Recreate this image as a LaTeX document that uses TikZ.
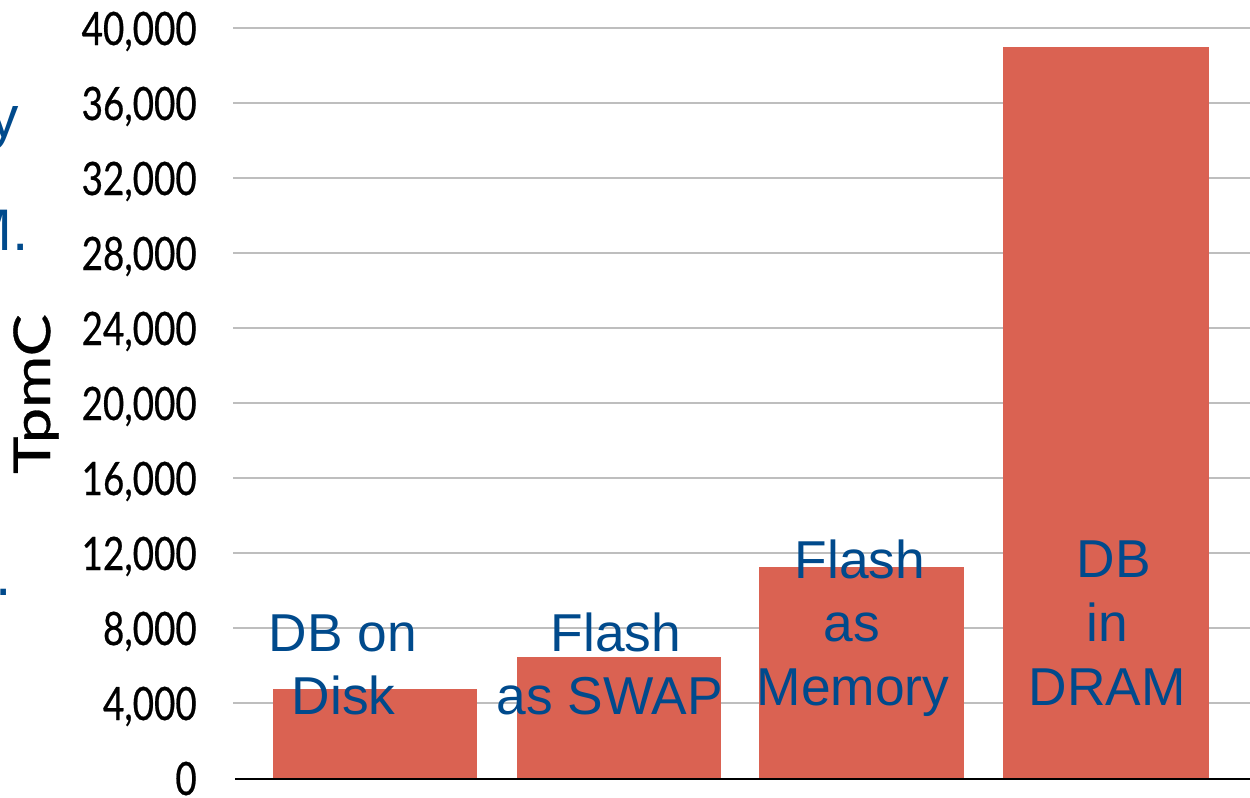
\documentclass[tikz,border=0pt]{standalone}
\usepackage{fontspec}
\setmainfont{Liberation Sans}
\newfontfamily\tickfont[FakeStretch=0.8,FakeBold=0.5]{Lato}
\newfontfamily\axisfont[FakeStretch=1.25,FakeBold=0.6]{Lato}
\definecolor{barred}{RGB}{218,98,82}
\definecolor{lblblue}{RGB}{0,74,140}
\definecolor{gridgray}{RGB}{190,190,190}
\begin{document}
\begin{tikzpicture}[x=0.75pt,y=-0.75pt,
  gridline/.style={draw=gridgray,line width=1.1pt},
  axisline/.style={draw=black,line width=1.1pt},
  bar/.style={fill=barred,draw=none},
  ticklbl/.style={anchor=base east,inner sep=0pt,font=\tickfont\fontsize{34.5}{40}\selectfont},
  barlbl/.style={anchor=base,inner sep=0pt,text=lblblue,font=\fontsize{40}{48}\selectfont},
  sidelbl/.style={anchor=base east,inner sep=0pt,text=lblblue,font=\fontsize{44}{52}\selectfont}]
\useasboundingbox (0,0) rectangle (1250,797);
\fill[white] (0,0) rectangle (1250,797);
% gridlines and tick labels
\foreach \k/\lab in {0/0,1/{4,000},2/{8,000},3/{12,000},4/{16,000},5/{20,000},6/{24,000},7/{28,000},8/{32,000},9/{36,000},10/{40,000}}{
  \pgfmathsetmacro{\yy}{778-75*\k}
  \ifnum\k>0
    \coordinate (gl\k) at (233,\yy);
    \coordinate (gr\k) at (1250,\yy);
    \draw[gridline] (gl\k) -- (gr\k);
  \fi
  \node[ticklbl] (tick\k) at (197,\yy+17) {\lab};
}
% bars
\path[bar] (273,778) rectangle (477,689) coordinate (b1);
\path[bar] (517,778) rectangle (721,657) coordinate (b2);
\path[bar] (759,778) rectangle (964,567) coordinate (b3);
\path[bar] (1003,778) rectangle (1209,47) coordinate (b4);
% axis
\coordinate (axl) at (235,779);
\coordinate (axr) at (1250,779);
\draw[axisline] (axl) -- (axr);
% axis title
\node[anchor=base,rotate=90,inner sep=0pt,font=\axisfont\fontsize{38}{44}\selectfont] (ytitle) at (50,394) {TpmC};
% bar labels
\node[barlbl] (l1a) at (343,651) {DB on};
\node[barlbl] (l1b) at (343.5,714) {Disk};
\node[barlbl] (l2a) at (616,651) {Flash};
\node[barlbl] (l2b) at (609.5,714) {as SWAP};
\node[barlbl] (l3a) at (860,578) {Flash};
\node[barlbl] (l3b) at (852,641) {as};
\node[barlbl] (l3c) at (853,705) {Memory};
\node[barlbl] (l4a) at (1114,577) {DB};
\node[barlbl] (l4b) at (1107,641) {in};
\node[barlbl] (l4c) at (1107,705) {DRAM};
% cut-off text at the left edge
\node[sidelbl] (s1) at (19,137) {y};
\node[sidelbl] (s2) at (29,250) {M.};
\node[sidelbl] (s3) at (12,595) {.};
\end{tikzpicture}
\end{document}
